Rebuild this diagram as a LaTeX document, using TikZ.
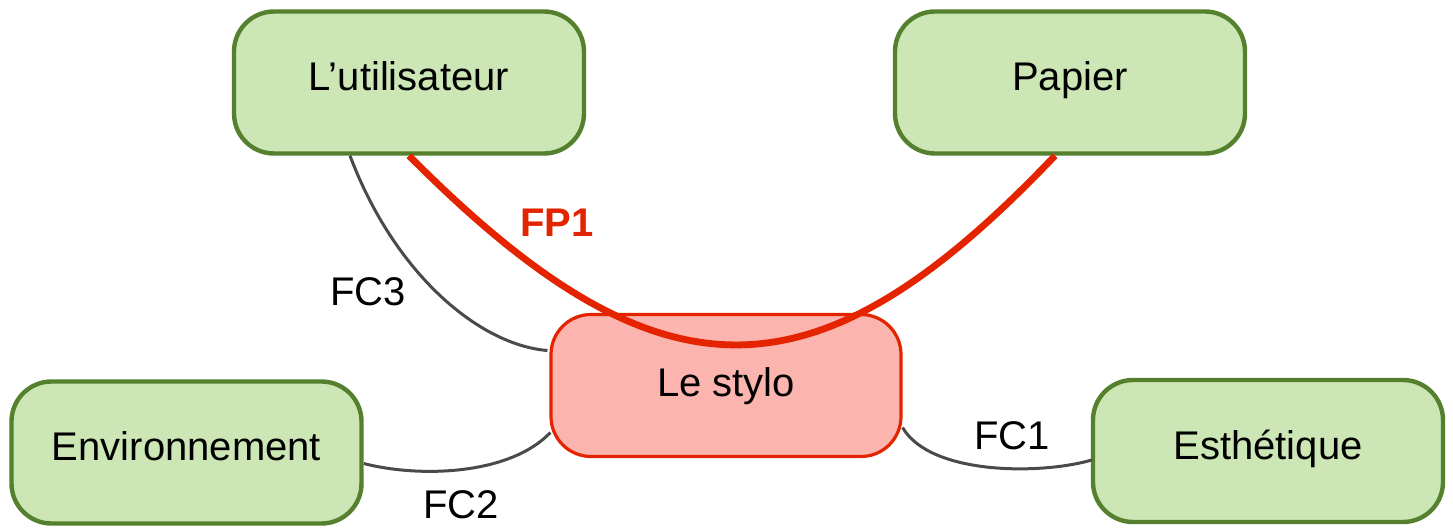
\documentclass[tikz,border=0pt]{standalone}
\usepackage{fontspec}
\setmainfont{Liberation Sans}
\usetikzlibrary{calc}
\definecolor{gfill}{HTML}{CCE6B6}
\definecolor{gdraw}{HTML}{55812F}
\definecolor{rfill}{HTML}{FCB4AE}
\definecolor{rdraw}{HTML}{E42400}
\definecolor{cgray}{HTML}{4A4A4A}
\tikzset{
  box/.style={rounded corners=20pt, minimum width=175pt, minimum height=71pt,
    font=\fontsize{20}{22}\selectfont, text height=12pt, text depth=4pt, inner sep=0pt},
  greenbox/.style={box, fill=gfill, draw=gdraw, line width=2.2pt},
  redbox/.style={box, fill=rfill, draw=rdraw, line width=1.6pt},
  fc/.style={draw=cgray, line width=1.5pt},
  fp/.style={draw=rdraw, line width=3.4pt},
  lbl/.style={font=\fontsize{20}{22}\selectfont, anchor=base, inner sep=0pt},
}
\begin{document}
\begin{tikzpicture}[x=0.5pt,y=-0.5pt]
\useasboundingbox (0,0) rectangle (1453,527);
\node[greenbox] (u) at (409,82.5) {L’utilisateur};
\node[greenbox] (p) at (1070,82.5) {Papier};
\node[greenbox] (e) at (186.5,452.5) {Environnement};
\node[greenbox] (t) at (1268,451) {Esthétique};
\node[redbox, text depth=1pt] (s) at (726,385.5) {Le stylo};
\draw[fc] ($(u.south)+(-59,0)$) .. controls (395,275) and (480,345) .. ($(s.west)+(-2,-35)$);
\draw[fc] ($(e.east)+(0,11)$) .. controls (420,478) and (510,475) .. ($(s.west)+(1,47)$);
\draw[fc] ($(s.east)+(0,42)$) .. controls (930,475) and (1040,475) .. ($(t.west)+(1,9)$);
\draw[fp] (u.south) .. controls (660,408) and (815,408) .. ($(p.south)+(-15,0)$);
\node[lbl] (l3) at (368,305) {FC3};
\node[lbl, text=rdraw, font=\fontsize{20}{22}\selectfont\bfseries] (l0) at (557,236) {FP1};
\node[lbl] (l2) at (461,518) {FC2};
\node[lbl] (l1) at (1012,449) {FC1};
\end{tikzpicture}
\end{document}
